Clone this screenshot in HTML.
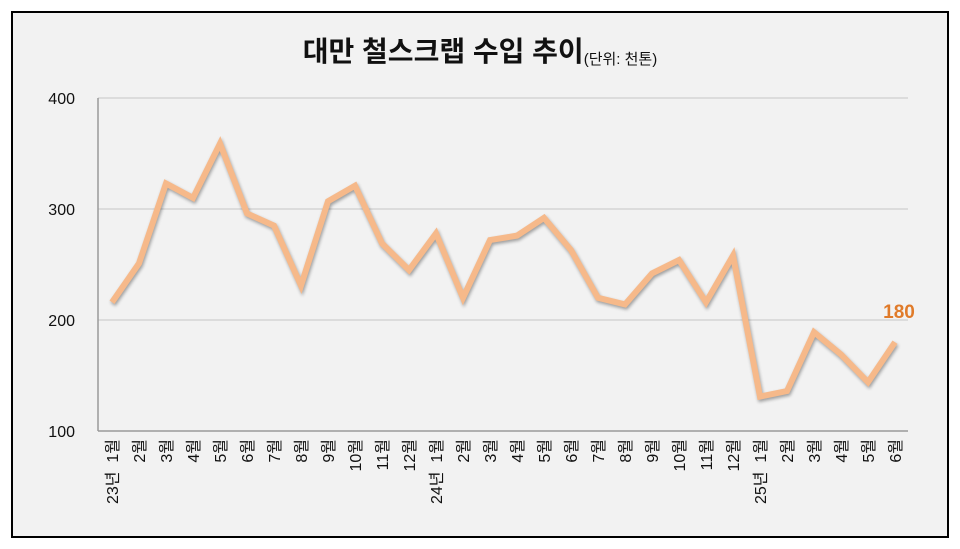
<!DOCTYPE html>
<html><head><meta charset="utf-8"><style>
body{margin:0;background:#fff;}
svg{display:block;font-family:"Liberation Sans","Noto Sans CJK KR",sans-serif;}
</style></head><body>
<svg width="960" height="549">
<rect x="12" y="12" width="936" height="525" fill="#f2f2f2" stroke="#000" stroke-width="2"/>
<text x="480" y="61" text-anchor="middle" font-size="28" font-weight="bold" fill="#111">대만 철스크랩 수입 추이<tspan font-size="15" font-weight="normal" dy="3">(단위: 천톤)</tspan></text>
<g id="grid"></g><g id="xl"></g><g id="yl"></g>
<path id="line" fill="none" stroke="#f6b98a" stroke-width="6" stroke-linejoin="miter" style="filter:drop-shadow(1px 2px 1.5px rgba(0,0,0,0.35))"/>
<text id="lastlabel" font-size="19" font-weight="bold" fill="#e07b2a" text-anchor="middle"></text>
</svg>
<script>
const categories=["23년 1월","2월","3월","4월","5월","6월","7월","8월","9월","10월","11월","12월","24년 1월","2월","3월","4월","5월","6월","7월","8월","9월","10월","11월","12월","25년 1월","2월","3월","4월","5월","6월"];
const values=[216,251,323,310,359,296,285,231,307,321,269,245,278,220,272,276,292,263,220,214,242,254,216,258,131,136,189,169,144,180];
const yTicks=[100,200,300,400];
const ns="http://www.w3.org/2000/svg";
const x0=112,x1=895,yTop=98,yBot=431,yMin=100,yMax=400;
const X=i=>x0+(x1-x0)*i/(categories.length-1);
const Y=v=>yBot-(v-yMin)/(yMax-yMin)*(yBot-yTop);
function mk(t,a,p){const e=document.createElementNS(ns,t);for(const k in a)e.setAttribute(k,a[k]);p.appendChild(e);return e;}
const g=document.getElementById('grid'),yl=document.getElementById('yl'),xl=document.getElementById('xl');
yTicks.forEach(v=>{
 const l=mk('line',{x1:98,x2:908,y1:Y(v),y2:Y(v),stroke:v===100?'#999':'#d0d0d0','stroke-width':v===100?1.5:1.2},g);
 
 
 const t=mk('text',{x:75,y:Y(v)+6,'text-anchor':'end','font-size':16,fill:'#111'},yl);
 t.textContent=v;
 
 
});
const ax=mk('line',{x1:98,x2:98,y1:yTop,y2:yBot,stroke:'#999','stroke-width':1.5},g);


categories.forEach((c,i)=>{
 const t=mk('text',{transform:`translate(${X(i)+6},439) rotate(-90)`,'text-anchor':'end','font-size':16,fill:'#111'},xl);
 t.textContent=c.replace(' ','\u00a0\u00a0');
 
 
});
document.getElementById('line').setAttribute('d',values.map((v,i)=>(i?'L':'M')+X(i)+' '+Y(v)).join(' '));
const ll=document.getElementById('lastlabel');
ll.setAttribute('x',X(values.length-1)+4);ll.setAttribute('y',Y(values[values.length-1])-24);
ll.textContent=values[values.length-1];
</script>
</body></html>
